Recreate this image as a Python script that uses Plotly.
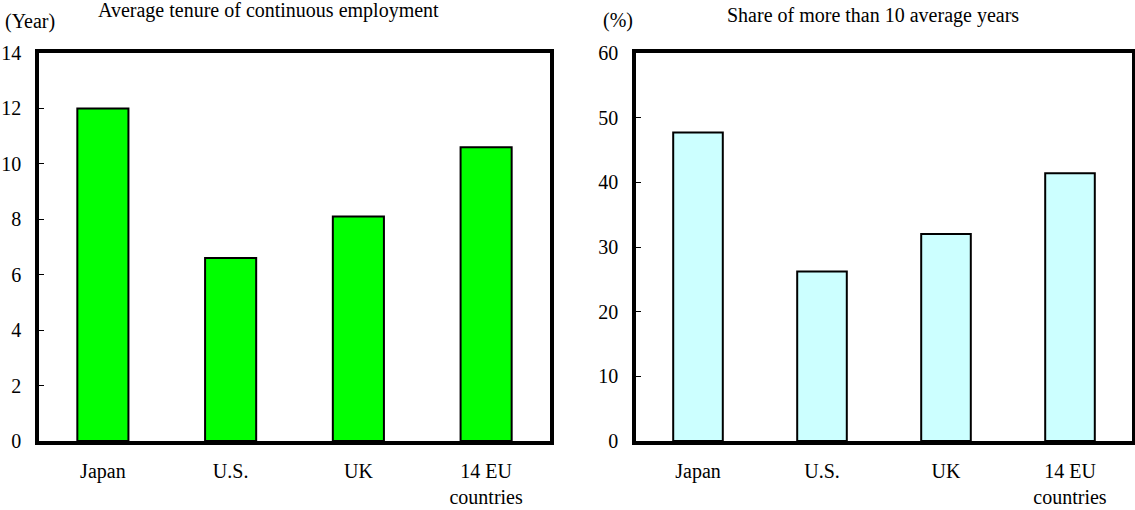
import plotly.graph_objects as go

# Data
categories = ["Japan", "U.S.", "UK", "14 EU<br>countries"]
avg_tenure_years = [12.0, 6.6, 8.1, 10.6]
share_over_10_years = [47.7, 26.2, 32.0, 41.4]

left_ticks = [0, 2, 4, 6, 8, 10, 12, 14]
right_ticks = [0, 10, 20, 30, 40, 50, 60]

W, H = 1135, 510
FONT = "Liberation Serif"
FS = 20

fig = go.Figure()

fig.add_trace(go.Bar(
    x=categories, y=avg_tenure_years, width=0.4,
    marker=dict(color="#00FF00", line=dict(color="black", width=2)),
    xaxis="x", yaxis="y", showlegend=False,
))
fig.add_trace(go.Bar(
    x=categories, y=share_over_10_years, width=0.4,
    marker=dict(color="#CCFFFF", line=dict(color="black", width=2)),
    xaxis="x2", yaxis="y2", showlegend=False,
))

ydom = [1 - 441 / H, 1 - 53 / H]

axis_common = dict(
    showline=True, linecolor="black", linewidth=3.5, mirror=True,
    showgrid=False, zeroline=False, automargin=False,
    tickfont=dict(family=FONT, size=FS, color="black"),
)

fig.update_layout(
    width=W, height=H,
    margin=dict(l=0, r=0, t=0, b=0, pad=0),
    plot_bgcolor="white", paper_bgcolor="white",
    font=dict(family=FONT, size=FS, color="black"),
    bargap=0.6,
    xaxis=dict(domain=[39 / W, 550 / W], anchor="y", ticks="",
               ticklabelstandoff=9, **axis_common),
    yaxis=dict(domain=ydom, anchor="x", range=[0, 14], tickvals=left_ticks,
               ticks="inside", ticklen=5, tickwidth=1, tickcolor="black",
               ticklabelstandoff=10, **axis_common),
    xaxis2=dict(domain=[636 / W, 1132 / W], anchor="y2", ticks="",
                ticklabelstandoff=9, **axis_common),
    yaxis2=dict(domain=ydom, anchor="x2", range=[0, 60], tickvals=right_ticks,
                ticks="inside", ticklen=5, tickwidth=1, tickcolor="black",
                ticklabelstandoff=10, **axis_common),
    annotations=[
        dict(text="Average tenure of continuous employment", x=268 / W, y=1 - 10 / H,
             xref="paper", yref="paper", xanchor="center", yanchor="middle",
             showarrow=False, font=dict(family=FONT, size=FS)),
        dict(text="Share of more than 10 average years", x=873 / W, y=1 - 15 / H,
             xref="paper", yref="paper", xanchor="center", yanchor="middle",
             showarrow=False, font=dict(family=FONT, size=FS)),
        dict(text="(Year)", x=3 / W, y=1 - 22 / H,
             xref="paper", yref="paper", xanchor="left", yanchor="middle",
             showarrow=False, font=dict(family=FONT, size=FS)),
        dict(text="(%)", x=601 / W, y=1 - 21 / H,
             xref="paper", yref="paper", xanchor="left", yanchor="middle",
             showarrow=False, font=dict(family=FONT, size=FS)),
    ],
)

fig.write_html("out.html")
